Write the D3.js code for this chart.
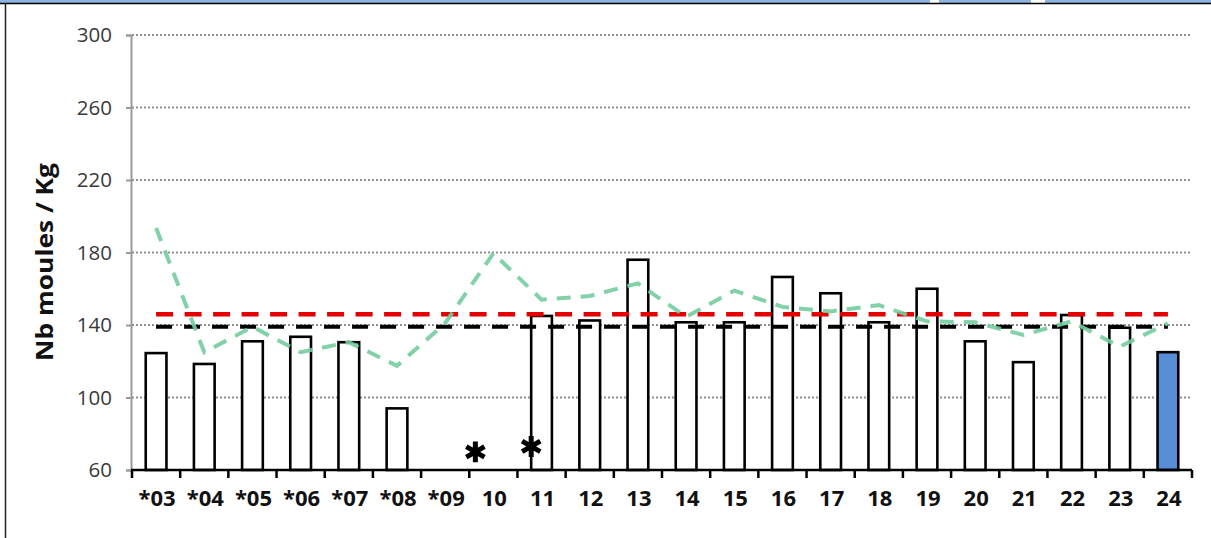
<!DOCTYPE html>
<html><head><meta charset="utf-8">
<script src="https://cdn.jsdelivr.net/npm/d3@7"></script>
<style>
html,body{margin:0;padding:0;background:#fff;}
svg{display:block;}
</style></head>
<body>
<svg id="chart" width="1211" height="538"></svg>
<script>
// ---- data ----
const categories = ["*03","*04","*05","*06","*07","*08","*09","10","11","12","13","14","15","16","17","18","19","20","21","22","23","24"];
const barValues = [124.5,118.5,131,133.5,130.5,94,null,null,145,142.5,176,141.5,141.5,166.5,157.5,141.5,160,131,119.5,145.5,138.5,125];
const trendValues = [193.5,125,139,125,130.5,117.5,141,179.5,154,156,163,144.5,159,150,147.5,151,142,141.5,134.5,142,128,141];
const redLevel = 146;
const blackLevel = 139;
const yTicks = [60,100,140,180,220,260,300];
const missingMarks = ["10","11"];
const missingMarkLevels = [70,73];
const highlighted = "24";
const yLabel = "Nb moules / Kg";

(function(){
// ---- layout ----
const svg = d3.select("#chart");
const mL = 132, mR = 1192, mT = 35, mB = 470;

// frame
svg.append("rect").attr("x",0).attr("y",0).attr("width",1211).attr("height",3).attr("fill","#8fb4e2");
svg.append("rect").attr("x",930).attr("y",0).attr("width",9).attr("height",3).attr("fill","#fff");
svg.append("rect").attr("x",1031).attr("y",0).attr("width",14).attr("height",3).attr("fill","#fff");
svg.append("line").attr("x1",0).attr("x2",1211).attr("y1",3.5).attr("y2",3.5).attr("stroke","#000").attr("stroke-width",1.5);
svg.append("line").attr("x1",5.5).attr("x2",5.5).attr("y1",3).attr("y2",538).attr("stroke","#222").attr("stroke-width",1.5);

const pIn = 0.57;
const x = d3.scaleBand().domain(categories).range([mL, mR]).paddingInner(pIn).paddingOuter(pIn/2);
const y = d3.scaleLinear().domain([60,300]).range([mB, mT]);
const cx = c => x(c) + x.bandwidth()/2;

// gridlines
svg.append("g").selectAll("line").data(yTicks.filter(t=>t>60)).join("line")
  .attr("x1", mL).attr("x2", mR)
  .attr("y1", d=>y(d)).attr("y2", d=>y(d))
  .attr("stroke","#8f8f8f").attr("stroke-width",2).attr("stroke-dasharray","2,2");

// y axis
const yAxis = svg.append("g").attr("transform",`translate(${mL-1},0)`)
  .call(d3.axisLeft(y).tickValues(yTicks).tickSize(5).tickPadding(14).tickFormat(d3.format("d")));
yAxis.select(".domain").attr("stroke","#9a9a9a").attr("stroke-width",2);
yAxis.selectAll(".tick line").attr("stroke","#9a9a9a").attr("stroke-width",2);
yAxis.selectAll(".tick text").attr("font-family","'Open Sans', sans-serif").attr("font-size",20.5).attr("fill","#3a3a3a");

// y label
svg.append("text").attr("transform",`translate(53,262) rotate(-90)`)
  .attr("text-anchor","middle").attr("font-family","'Open Sans', sans-serif")
  .attr("font-weight","bold").attr("font-size",23).attr("fill","#111")
  .attr("textLength",198).attr("lengthAdjust","spacingAndGlyphs").text(yLabel);

// bars
const barData = categories.map((c,i)=>({c, v: barValues[i]})).filter(d=>d.v!=null);
svg.append("g").selectAll("rect").data(barData).join("rect")
  .attr("x", d=>x(d.c)).attr("width", x.bandwidth())
  .attr("y", d=>y(d.v)).attr("height", d=>y(60)-y(d.v))
  .attr("fill", d=> d.c===highlighted ? "#578ed7" : "#fff")
  .attr("stroke","#000").attr("stroke-width",2.6);

// reference lines
const first = categories[0], last = categories[categories.length-1];
svg.append("line").attr("x1",cx(first)).attr("x2",cx(last)).attr("y1",y(blackLevel)).attr("y2",y(blackLevel))
  .attr("stroke","#000").attr("stroke-width",4).attr("stroke-dasharray","16,12");
svg.append("line").attr("x1",cx(first)).attr("x2",cx(last)).attr("y1",y(redLevel)).attr("y2",y(redLevel))
  .attr("stroke","#e40000").attr("stroke-width",4.5).attr("stroke-dasharray","17,11.5");

// trend line
const line = d3.line().x((d,i)=>cx(categories[i])).y(d=>y(d)).curve(d3.curveLinear);
svg.append("path").datum(trendValues).attr("d", line)
  .attr("fill","none").attr("stroke","#74cc9f").attr("stroke-opacity",0.9)
  .attr("stroke-width",4).attr("stroke-dasharray","14,10");

// x axis
const step = x.step();
const boundaries = d3.range(categories.length+1).map(i => mL + i*step);
svg.append("line").attr("x1",mL-1).attr("x2",mR).attr("y1",mB).attr("y2",mB).attr("stroke","#000").attr("stroke-width",2.5);
svg.append("g").selectAll("line").data(boundaries).join("line")
  .attr("x1",d=>d).attr("x2",d=>d).attr("y1",mB).attr("y2",mB+8)
  .attr("stroke","#000").attr("stroke-width",2.5);
svg.append("g").selectAll("text").data(categories).join("text")
  .attr("x", d=>cx(d)+1).attr("y", mB+36)
  .attr("text-anchor","middle").attr("font-family","'Open Sans', sans-serif")
  .attr("font-weight","bold").attr("font-size",22).attr("fill","#111").text(d=>d);

// asterisks for missing data
const ax = (d,i)=> i===0 ? cx(d)-18 : x(d);
const ast = d3.symbolAsterisk;
if (ast) {
  svg.append("g").selectAll("path").data(missingMarks).join("path")
    .attr("transform",(d,i)=>`translate(${ax(d,i)},${y(missingMarkLevels[i])})`)
    .attr("d", d3.symbol(ast, 310)())
    .attr("fill","none").attr("stroke","#000").attr("stroke-width",5);
} else {
  svg.append("g").selectAll("text").data(missingMarks).join("text")
    .attr("x", ax).attr("y", (d,i)=> y(missingMarkLevels[i]) + 22)
    .attr("text-anchor","middle").attr("font-family","'DejaVu Sans', sans-serif")
    .attr("font-weight","bold").attr("font-size",48).attr("fill","#000").text("*");
}
})();
</script>
</body></html>
